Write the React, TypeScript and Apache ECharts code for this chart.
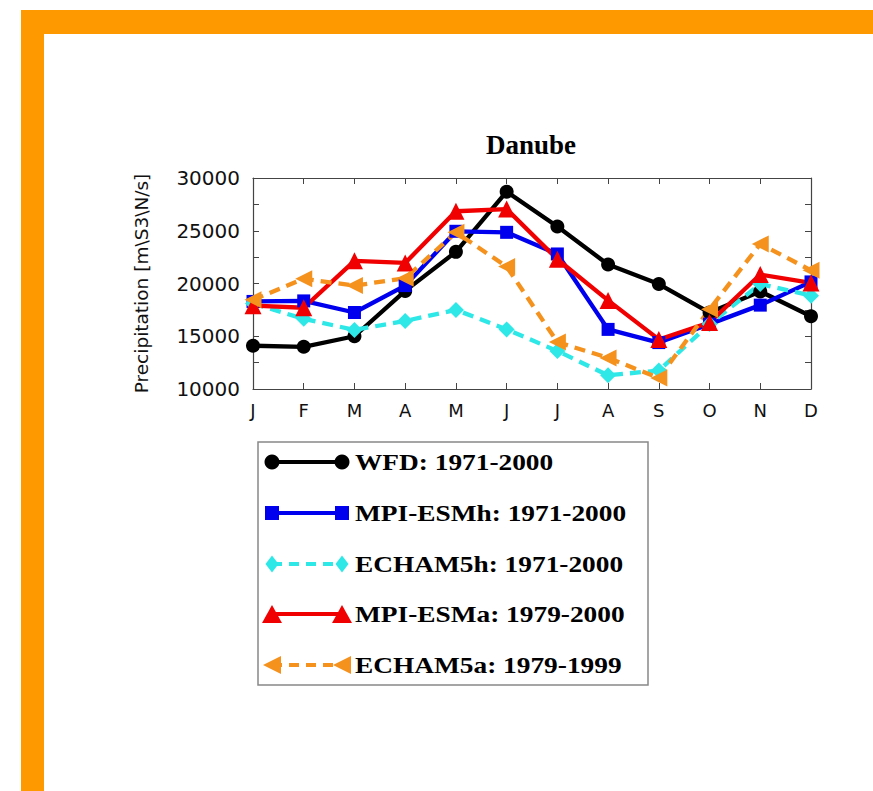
import React, { useEffect, useRef } from "react";
import * as echarts from "echarts";

const months = ["J", "F", "M", "A", "M", "J", "J", "A", "S", "O", "N", "D"];
const yTicks = [10000, 15000, 20000, 25000, 30000];

const wfd = [14100, 14000, 15000, 19300, 23000, 28700, 25400, 21800, 19950, 17250, 19250, 16900];
const mpiEsmH = [18300, 18350, 17250, 19800, 24950, 24850, 22800, 15650, 14400, 16150, 17950, 20150];
const echam5H = [18100, 16650, 15600, 16450, 17500, 15650, 13600, 11300, 11750, 16150, 19950, 18850];
const mpiEsmA = [17900, 17700, 22150, 21950, 26850, 27050, 22300, 18400, 14700, 16300, 20850, 20050];
const echam5A = [18450, 20450, 19800, 20500, 24850, 21600, 14450, 12950, 11050, 17550, 23750, 21250];

const seriesNames = [
  "WFD: 1971-2000",
  "MPI-ESMh: 1971-2000",
  "ECHAM5h: 1971-2000",
  "MPI-ESMa: 1979-2000",
  "ECHAM5a: 1979-1999",
];

const seriesDefs = [
  { name: seriesNames[0], data: wfd, color: "#000000", symbol: "circle", size: 14, rotate: 0, dashed: false },
  { name: seriesNames[1], data: mpiEsmH, color: "#0000ee", symbol: "rect", size: 13, rotate: 0, dashed: false },
  { name: seriesNames[2], data: echam5H, color: "#2ee8e8", symbol: "diamond", size: 16, rotate: 0, dashed: true },
  { name: seriesNames[3], data: mpiEsmA, color: "#f00000", symbol: "triangle", size: 17, rotate: 0, dashed: false },
  { name: seriesNames[4], data: echam5A, color: "#f5921e", symbol: "triangle", size: 17, rotate: 90, dashed: true },
];

const GRID = { left: 253, right: 62, top: 178, bottom: 402 };

function markerGraphic(kind: string, rotate: number, cx: number, cy: number, color: string) {
  const s = { fill: color };
  if (kind === "circle") return { type: "circle", shape: { cx, cy, r: 7.5 }, style: s };
  if (kind === "rect") return { type: "rect", shape: { x: cx - 7, y: cy - 7, width: 14, height: 14 }, style: s };
  if (kind === "diamond")
    return { type: "polygon", shape: { points: [[cx, cy - 8.5], [cx + 6.5, cy], [cx, cy + 8.5], [cx - 6.5, cy]] }, style: s };
  if (rotate === 90)
    return { type: "polygon", shape: { points: [[cx - 9, cy], [cx + 9, cy - 9], [cx + 9, cy + 9]] }, style: s };
  return { type: "polygon", shape: { points: [[cx, cy - 9], [cx + 10, cy + 9], [cx - 10, cy + 9]] }, style: s };
}

export default function App() {
  const ref = useRef<HTMLDivElement>(null);

  useEffect(() => {
    if (!ref.current) return;
    const chart = echarts.init(ref.current, null, { renderer: "svg" });

    const legendRows = [462, 513, 564, 614, 665];
    const legendEls: any[] = [
      {
        type: "rect",
        shape: { x: 258, y: 442, width: 390, height: 243 },
        style: { fill: "#ffffff", stroke: "#888888", lineWidth: 1.5 },
      },
    ];
    seriesDefs.forEach((d, i) => {
      const y = legendRows[i];
      legendEls.push({
        type: "line",
        shape: { x1: 272, y1: y, x2: 342, y2: y },
        style: { stroke: d.color, lineWidth: 4, lineDash: d.dashed ? [10, 7] : null },
      });
      legendEls.push(markerGraphic(d.symbol, d.rotate, 272, y, d.color));
      legendEls.push(markerGraphic(d.symbol, d.rotate, 342, y, d.color));
      legendEls.push({
        type: "text",
        x: 355,
        y: y,
        scaleX: 1.14,
        style: {
          text: d.name,
          fill: "#000",
          font: "bold 24px 'Liberation Serif', 'Times New Roman', serif",
          verticalAlign: "middle",
          align: "left",
        },
      });
    });

    const option: any = {
      animation: false,
      backgroundColor: "#ffffff",
      title: {
        text: "Danube",
        left: 486,
        top: 131,
        padding: 0,
        textStyle: {
          fontFamily: "'Liberation Serif', 'Times New Roman', serif",
          fontWeight: "bold",
          fontSize: 27,
          color: "#000",
        },
      },
      grid: { ...GRID, show: false },
      xAxis: [
        {
          type: "category",
          data: months,
          boundaryGap: false,
          position: "bottom",
          axisLine: { show: true, lineStyle: { color: "#444", width: 1.2 } },
          axisTick: { show: true, inside: true, length: 6, lineStyle: { color: "#444" } },
          axisLabel: {
            margin: 12,
            fontFamily: "'DejaVu Sans', sans-serif",
            fontSize: 18,
            color: "#111",
          },
          splitLine: { show: false },
        },
        {
          type: "category",
          data: months,
          boundaryGap: false,
          position: "top",
          axisLine: { show: true, lineStyle: { color: "#444", width: 1.2 } },
          axisTick: { show: true, inside: true, length: 6, lineStyle: { color: "#444" } },
          axisLabel: { show: false },
          splitLine: { show: false },
        },
      ],
      yAxis: [
        {
          type: "value",
          min: yTicks[0],
          max: yTicks[yTicks.length - 1],
          interval: 5000,
          position: "left",
          name: "Precipitation [m\\S3\\N/s]",
          nameLocation: "middle",
          nameGap: 102,
          nameTextStyle: {
            fontFamily: "'DejaVu Sans', sans-serif",
            fontSize: 18.5,
            color: "#111",
          },
          axisLine: { show: true, lineStyle: { color: "#444", width: 1.2 } },
          axisTick: { show: true, inside: true, length: 6, lineStyle: { color: "#444" } },
          minorTick: { show: true, splitNumber: 2, length: 6, lineStyle: { color: "#444" } },
          axisLabel: {
            margin: 13,
            formatter: (v: number) => String(v),
            fontFamily: "'DejaVu Sans', sans-serif",
            fontSize: 20,
            color: "#111",
          },
          splitLine: { show: false },
        },
        {
          type: "value",
          min: yTicks[0],
          max: yTicks[yTicks.length - 1],
          interval: 5000,
          position: "right",
          axisLine: { show: true, lineStyle: { color: "#444", width: 1.2 } },
          axisTick: { show: true, inside: true, length: 6, lineStyle: { color: "#444" } },
          minorTick: { show: true, splitNumber: 2, length: 6, lineStyle: { color: "#444" } },
          axisLabel: { show: false },
          splitLine: { show: false },
        },
      ],
      series: seriesDefs.map((d) => ({
        name: d.name,
        type: "line",
        data: d.data,
        xAxisIndex: 0,
        yAxisIndex: 0,
        symbol: d.symbol,
        symbolSize: d.size,
        symbolRotate: d.rotate,
        showSymbol: true,
        lineStyle: { color: d.color, width: 4.3, type: d.dashed ? [11, 7] : "solid" },
        itemStyle: { color: d.color, borderWidth: 0 },
        emphasis: { disabled: true },
      })),
      graphic: [
        { type: "rect", shape: { x: 21, y: 10, width: 852, height: 24 }, style: { fill: "#ff9900" } },
        { type: "rect", shape: { x: 21, y: 10, width: 23, height: 781 }, style: { fill: "#ff9900" } },
        ...legendEls,
      ],
    };

    chart.setOption(option);
    return () => chart.dispose();
  }, []);

  return (
    <div
      ref={ref}
      style={{ position: "absolute", left: 0, top: 0, width: 873, height: 791 }}
    />
  );
}
